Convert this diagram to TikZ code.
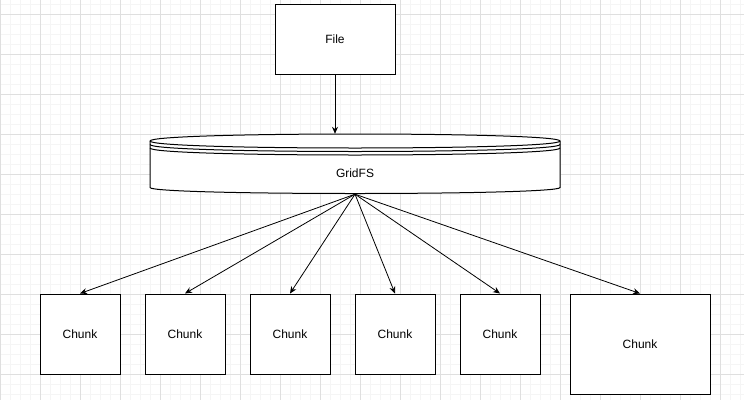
\documentclass[tikz,border=0pt]{standalone}
\usepackage{fontspec}
\setmainfont{Liberation Sans}
\usetikzlibrary{arrows.meta}

\begin{document}
\begin{tikzpicture}[>={Stealth[length=7pt,width=6pt]}, x=1pt, y=-1pt,
  minorline/.style={gray!8, line width=0.6pt},
  majorline/.style={gray!25, line width=0.6pt},
  box/.style={draw, line width=1pt, fill=white, inner sep=0pt,
    font=\fontsize{12}{14}\selectfont},
  chunk/.style={box, minimum width=80pt, minimum height=80pt}]

\useasboundingbox (0,0) rectangle (744,400);

% Grid
\fill[white] (0,0) rectangle (744,400);
\foreach \gx in {0,10,...,740} \draw[minorline] (\gx,0) -- (\gx,400);
\foreach \gy in {4,14,...,394} \draw[minorline] (0,\gy) -- (744,\gy);
\foreach \gx in {0,40,...,720} \draw[majorline] (\gx,0) -- (\gx,400);
\foreach \gy in {14,54,...,374} \draw[majorline] (0,\gy) -- (744,\gy);

% File
\node[box, minimum width=120pt, minimum height=70pt] (file) at (335,39) {File};

% GridFS store
\node[inner sep=0pt, minimum width=410pt, minimum height=60pt] (gridfs) at (355,164) {};
\draw[line width=1pt, fill=white]
  (150,141) .. controls (150,131.67) and (560,131.67) .. (560,141)
  -- (560,187.5) .. controls (560,195.5) and (150,195.5) .. (150,187.5) -- cycle;
\draw[line width=1pt] (150,141) .. controls (150,150.33) and (560,150.33) .. (560,141);
\draw[line width=1pt] (150,144.5) .. controls (150,153.83) and (560,153.83) .. (560,144.5);
\draw[line width=1pt] (150,148) .. controls (150,157.33) and (560,157.33) .. (560,148);
\node[font=\fontsize{12}{14}\selectfont] (gridfslabel) at (355,173) {GridFS};

\draw[->, line width=1pt] (file.south) -- (file.south |- gridfs.north);

% Chunks
\foreach \cx [count=\ci] in {80,185,290,395,500}
  \node[chunk] (chunk\ci) at (\cx,334) {Chunk};
\node[chunk, minimum width=140pt, minimum height=100pt] (chunk6) at (640,344) {Chunk};

\foreach \ci in {1,...,6}
  \draw[->, line width=0.8pt] (gridfs.south) -- (chunk\ci.north);

\end{tikzpicture}
\end{document}
